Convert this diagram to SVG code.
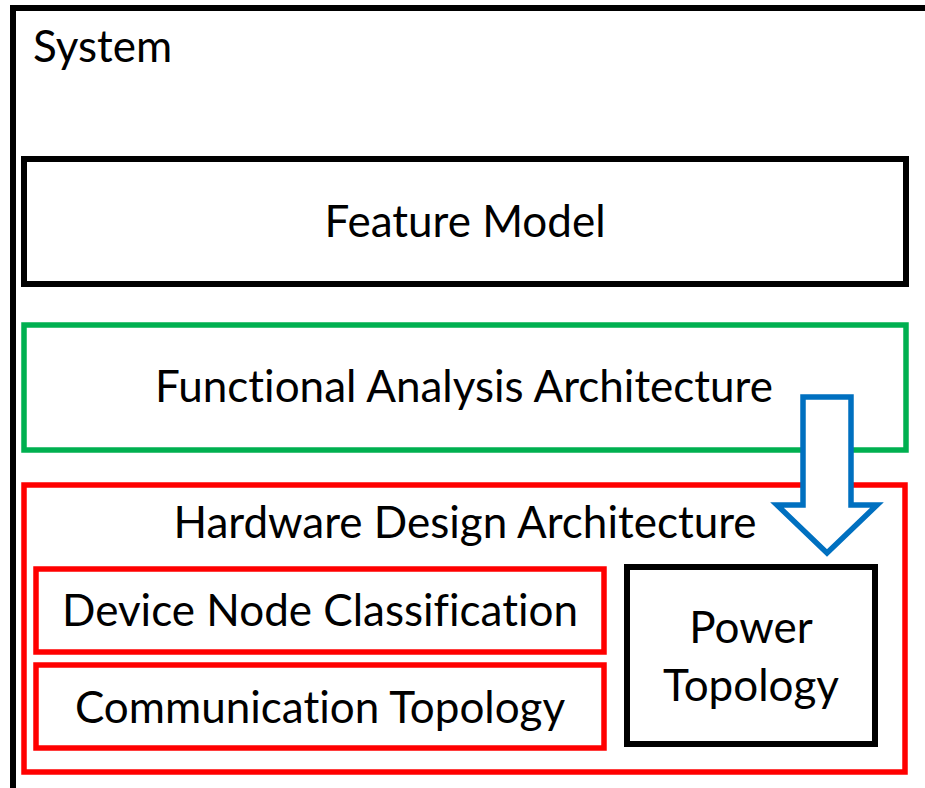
<svg xmlns="http://www.w3.org/2000/svg" width="925" height="788" viewBox="0 0 925 788">
  <style>
    .box { fill: none; stroke-linejoin: miter; }
    .k { stroke: #000000; stroke-width: 6; }
    .g { stroke: #00B050; stroke-width: 5.5; }
    .r { stroke: #FF0000; stroke-width: 5.5; }
    text { font-family: Lato, "Liberation Sans", sans-serif; font-size: 44px; fill: #000000; font-variant-ligatures: none; }
    .c { text-anchor: middle; }
  </style>
  <rect width="925" height="788" fill="#ffffff"/>

  <!-- outer system container, runs off the right and bottom edges -->
  <g id="system">
    <rect class="box k" x="13" y="8" width="1000" height="900"/>
    <text x="33" y="62">System</text>
  </g>

  <g id="feature-model">
    <rect class="box k" x="24" y="159" width="882" height="125"/>
    <text class="c" x="465" y="237">Feature Model</text>
  </g>

  <g id="functional-analysis">
    <rect class="box g" x="24" y="325" width="882" height="125"/>
    <text class="c" x="464" y="402">Functional Analysis Architecture</text>
  </g>

  <g id="hardware-design">
    <rect class="box r" x="24" y="485" width="881" height="287"/>
    <text class="c" x="465" y="538">Hardware Design Architecture</text>
  </g>

  <g id="device-node">
    <rect class="box r" x="36" y="569" width="568" height="83"/>
    <text class="c" x="320" y="626">Device Node Classification</text>
  </g>

  <g id="communication">
    <rect class="box r" x="36" y="665" width="568" height="83"/>
    <text class="c" x="320" y="723">Communication Topology</text>
  </g>

  <g id="power">
    <rect class="box k" x="627" y="567" width="248" height="177"/>
    <text class="c" x="751" y="643">Power</text>
    <text class="c" x="751" y="701">Topology</text>
  </g>

  <!-- block arrow from the functional layer down into the hardware layer -->
  <g id="connectors">
    <path d="M803,397 H851 V505 H877 L827,553 L777,505 H803 Z" fill="#ffffff" stroke="#0070C0" stroke-width="5.5" stroke-linejoin="miter"/>
  </g>
</svg>
